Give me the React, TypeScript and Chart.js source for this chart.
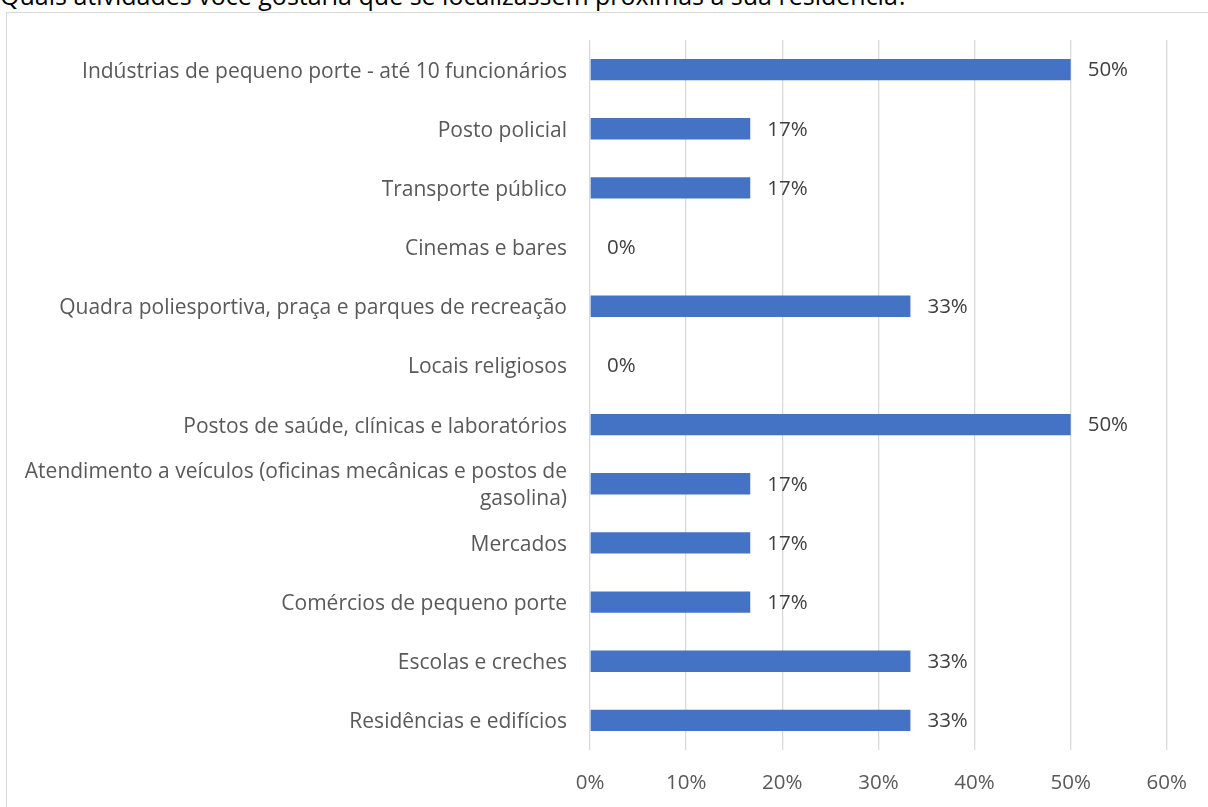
import React, { useEffect, useRef } from "react";
import { Chart, registerables } from "chart.js";

Chart.register(...registerables);

const TITLE = "Quais atividades você gostaria que se localizassem próximas à sua residência?";

const categories: (string | string[])[] = [
  "Indústrias de pequeno porte - até 10 funcionários",
  "Posto policial",
  "Transporte público",
  "Cinemas e bares",
  "Quadra poliesportiva, praça e parques de recreação",
  "Locais religiosos",
  "Postos de saúde, clínicas e laboratórios",
  ["Atendimento a veículos (oficinas mecânicas e postos de", "gasolina)"],
  "Mercados",
  "Comércios de pequeno porte",
  "Escolas e creches",
  "Residências e edifícios",
];

const values: number[] = [50, 16.67, 16.67, 0, 33.33, 0, 50, 16.67, 16.67, 16.67, 33.33, 33.33];

const xTicks: number[] = [0, 10, 20, 30, 40, 50, 60];

const FONT = "'Open Sans', Lato, sans-serif";

const valueLabels = {
  id: "valueLabels",
  afterDatasetsDraw(chart: any) {
    const ctx = chart.ctx;
    const meta = chart.getDatasetMeta(0);
    ctx.save();
    ctx.font = `20.5px ${FONT}`;
    ctx.fillStyle = "#404040";
    ctx.textAlign = "left";
    ctx.textBaseline = "middle";
    meta.data.forEach((el: any, i: number) => {
      const v = values[i];
      ctx.fillText(`${Math.round(v)}%`, el.x + 17, el.y + 1);
    });
    ctx.restore();
  },
};

export default function App() {
  const ref = useRef<HTMLCanvasElement | null>(null);

  useEffect(() => {
    if (!ref.current) return;
    const chart = new Chart(ref.current, {
      type: "bar",
      data: {
        labels: categories,
        datasets: [
          {
            data: values,
            backgroundColor: "#4472C4",
            borderWidth: 0,
            barPercentage: 0.36,
            categoryPercentage: 1,
          },
        ],
      },
      options: {
        indexAxis: "y",
        responsive: false,
        maintainAspectRatio: false,
        animation: false,
        devicePixelRatio: 1,
        layout: { padding: { left: 0, top: 40, right: 41, bottom: 0 } },
        plugins: {
          legend: { display: false },
          tooltip: { enabled: false },
          title: { display: false },
        },
        scales: {
          x: {
            min: 0,
            max: 60,
            afterBuildTicks(scale: any) {
              scale.ticks = xTicks.map((v) => ({ value: v }));
            },
            ticks: {
              callback: (v: any) => `${v}%`,
              color: "#595959",
              font: { family: FONT, size: 20.5 },
              padding: 21,
              maxRotation: 0,
            },
            grid: { color: "#d9d9d9", lineWidth: 1.3, drawTicks: false },
            border: { display: false },
            afterFit(scale: any) {
              scale.height = 57;
            },
          },
          y: {
            grid: { display: false, drawTicks: false },
            border: { display: false },
            ticks: {
              color: "#595959",
              font: { family: FONT, size: 21, lineHeight: 1.29 },
              padding: 23,
              labelOffset: 2,
              autoSkip: false,
            },
            afterFit(scale: any) {
              scale.width = 590;
            },
          },
        },
      },
      plugins: [valueLabels],
    });
    return () => chart.destroy();
  }, []);

  return (
    <div
      style={{
        position: "fixed",
        left: 0,
        top: 0,
        width: 1208,
        height: 807,
        overflow: "hidden",
        background: "#ffffff",
      }}
    >
      <div
        style={{
          position: "absolute",
          left: 6,
          top: 12,
          width: 1400,
          height: 1000,
          border: "1.5px solid #d9d9d9",
          boxSizing: "border-box",
        }}
      />
      <div
        style={{
          position: "absolute",
          left: 0,
          top: -17,
          whiteSpace: "nowrap",
          fontFamily: FONT,
          fontSize: 25,
          lineHeight: "24px",
          color: "#000000",
        }}
      >
        {TITLE}
      </div>
      <canvas
        ref={ref}
        width={1208}
        height={807}
        style={{ position: "absolute", left: 0, top: 0, width: 1208, height: 807 }}
      />
    </div>
  );
}
